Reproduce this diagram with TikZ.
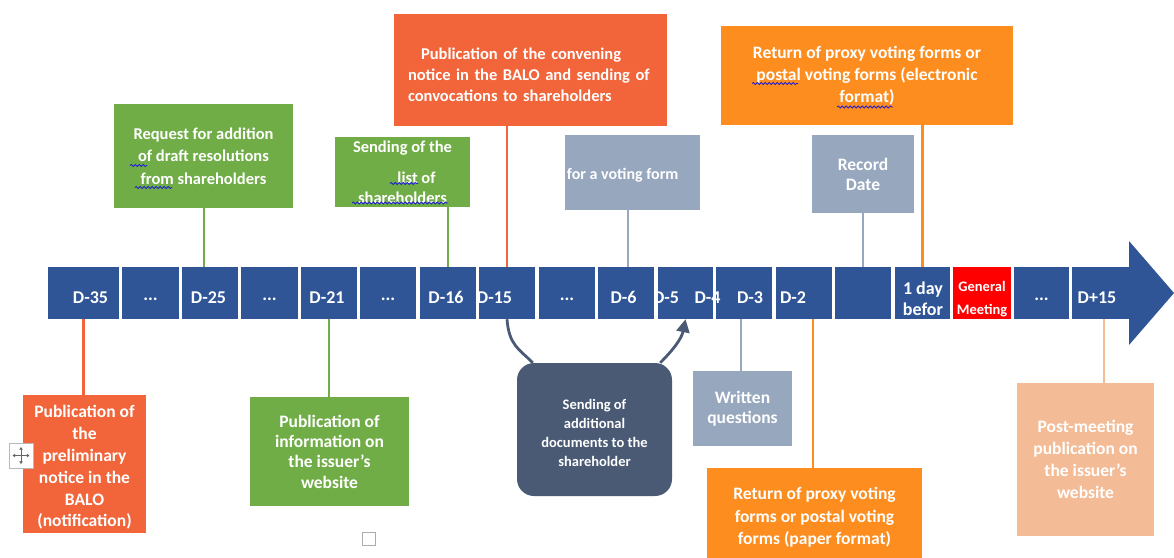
\documentclass[tikz,border=0pt]{standalone}
\usepackage{fontspec}
\setmainfont{Carlito}
\usetikzlibrary{arrows.meta,decorations.pathmorphing}

\definecolor{barblue}{HTML}{2F5597}
\definecolor{gmred}{HTML}{FF0000}
\definecolor{leafgreen}{HTML}{70AD47}
\definecolor{brick}{HTML}{F2643A}
\definecolor{amber}{HTML}{FD8D1F}
\definecolor{steel}{HTML}{97A7BE}
\definecolor{peach}{HTML}{F4BC96}
\definecolor{slate}{HTML}{4A5A74}
\definecolor{squiggle}{HTML}{2020D0}

\newcommand{\fs}[2]{\fontsize{#1}{#2}\selectfont}

\tikzset{
  seg/.style={fill=barblue, minimum height=52pt, inner sep=0pt},
  segtxt/.style={text=white, inner sep=0pt, font=\bfseries\fs{18}{21}, align=center},
  panel/.style={inner sep=0pt, text=white, align=center, font=\bfseries\fs{17.5}{21.5}},
  tick/.style={line width=2pt},
  wavy/.style={squiggle, line width=0.8pt, decorate,
               decoration={snake, amplitude=1.1pt, segment length=4pt}}
}

\begin{document}
\begin{tikzpicture}[x=1pt,y=-1pt]
\useasboundingbox (0,0) rectangle (1174,557);

% ---------- time line ----------
\node[seg, minimum width=71pt] (t1)  at (83.5,293) {};
\node[seg, minimum width=57pt] (t2)  at (150.5,293) {};
\node[seg, minimum width=56pt] (t3)  at (210,293) {};
\node[seg, minimum width=57pt] (t4)  at (269.5,293) {};
\node[seg, minimum width=56pt] (t5)  at (329,293) {};
\node[seg, minimum width=56pt] (t6)  at (388,293) {};
\node[seg, minimum width=56pt] (t7)  at (448,293) {};
\node[seg, minimum width=56pt] (t8)  at (507,293) {};
\node[seg, minimum width=56pt] (t9)  at (567,293) {};
\node[seg, minimum width=56pt] (t10) at (626,293) {};
\node[seg, minimum width=55pt] (t11) at (685.5,293) {};
\node[seg, minimum width=56pt] (t12) at (744,293) {};
\node[seg, minimum width=56pt] (t13) at (804,293) {};
\node[seg, minimum width=56pt] (t14) at (863,293) {};
\node[seg, minimum width=55pt] (t15) at (922.5,293) {};
\node[seg, fill=gmred, minimum width=58pt] (t16) at (982,293) {};
\node[seg, minimum width=55pt] (t17) at (1041.5,293) {};
\node[seg, minimum width=64pt] (t18) at (1104,293) {};
\fill[barblue] (1129,241) -- (1174,293) -- (1129,345) -- cycle;

\node[segtxt] (l1)  at (90.5,297.5) {D-35};
\node[segtxt] (l2)  at (150.5,299) {...};
\node[segtxt] (l3)  at (208.5,297.5) {D-25};
\node[segtxt] (l4)  at (269.5,299) {...};
\node[segtxt] (l5)  at (327,297.5) {D-21};
\node[segtxt] (l6)  at (388,299) {...};
\node[segtxt] (l7)  at (446,297.5) {D-16};
\node[segtxt] (l8)  at (494.5,297.5) {D-15};
\node[segtxt] (l9)  at (567,299) {...};
\node[segtxt] (l10) at (623.5,297.5) {D-6};
\node[segtxt] (l11a) at (666,297.5) {D-5};
\node[segtxt] (l11b) at (707.5,297.5) {D-4};
\node[segtxt] (l12) at (750,297.5) {D-3};
\node[segtxt] (l13) at (793,297.5) {D-2};
\node[segtxt] (l15) at (923,298.5) {1 day\\befor};
\node[segtxt, font=\bfseries\fs{14.5}{23}] (l16) at (982,299.5) {General\\Meeting};
\node[segtxt] (l17) at (1041.5,299) {...};
\node[segtxt] (l18) at (1097,297.5) {D+15};

% ---------- panels above the line ----------
\node[panel, fill=leafgreen, minimum width=179pt, minimum height=104pt,
      font=\bfseries\fs{16.5}{22.5}] (req) at (203.5,156)
  {Request for addition\\of draft resolutions\\from shareholders};
\node[panel, fill=leafgreen, minimum width=135pt, minimum height=70pt,
      font=\bfseries\fs{16.5}{20}] (list) at (402.5,172)
  {Sending of the\\[11pt]\hspace*{28pt}list of\\shareholders};
\node[panel, fill=brick, minimum width=273pt, minimum height=112pt] (conv) at (530.5,70) {};
\node[panel, text width=245pt, align=left, font=\bfseries\fs{16.5}{21}] (convT) at (530.5,74.5)
  {\hspace*{13pt}Publication of the convening\\notice in the BALO and sending of\\convocations to shareholders};
\node[panel, fill=steel, minimum width=135pt, minimum height=75pt] (vote) at (632.5,172.5) {};
\node[panel, fill=amber, minimum width=292pt, minimum height=99pt,
      font=\bfseries\fs{17.5}{22}] (elec) at (867,75.5)
  {Return of proxy voting forms or\\postal voting forms (electronic\\format)};
\node[panel, fill=steel, minimum width=102pt, minimum height=78pt,
      font=\bfseries\fs{17.5}{20}] (rec) at (863,174) {Record\\Date};

% ---------- panels below the line ----------
\node[panel, fill=brick, minimum width=123pt, minimum height=138pt] (pre) at (84.5,464) {};
\node[panel, font=\bfseries\fs{17.5}{21.8}] (preT) at (84.5,467.5)
  {Publication of\\the\\preliminary\\notice in the\\BALO\\(notification)};
\node[panel, fill=leafgreen, minimum width=159pt, minimum height=109pt,
      font=\bfseries\fs{17.5}{20.3}] (web) at (329.5,451.5)
  {Publication of\\information on\\the issuer's\\website};
\node[panel, fill=slate, rounded corners=17pt, minimum width=155pt, minimum height=133pt] (sd) at (594.5,429.5) {};
\node[panel, font=\bfseries\fs{14.5}{19}] (sdT) at (594.5,432.5)
  {Sending of\\additional\\documents to the\\shareholder};
\node[panel, fill=steel, minimum width=99pt, minimum height=75pt,
      font=\bfseries\fs{17.5}{20}] (wq) at (742.5,408.5) {Written\\questions};
\node[panel, fill=amber, minimum width=215pt, minimum height=99pt,
      font=\bfseries\fs{17.5}{22.5}] (paper) at (814.5,517.5)
  {Return of proxy voting\\forms or postal voting\\forms (paper format)};
\node[panel, fill=peach, minimum width=137pt, minimum height=153pt,
      font=\bfseries\fs{17.5}{22}] (post) at (1085.5,459.5)
  {Post-meeting\\publication on\\the issuer's\\website};

% ---------- drop lines ----------
\draw[tick, brick, line width=2.5pt] (t1.south) -- (t1.south |- pre.north);
\draw[tick, leafgreen] (req.south) -- (req.south |- t3.north);
\draw[tick, leafgreen] (t5.south) -- (t5.south |- web.north);
\draw[tick, leafgreen] (t7.north) -- (t7.north |- list.south);
\draw[tick, brick, line width=2.5pt] (t8.north) -- (t8.north |- conv.south);
\draw[tick, steel] ([xshift=2pt]t10.north) -- ([xshift=2pt]t10.north |- vote.south);
\draw[tick, steel] ([xshift=-2pt]wq.north) -- ([xshift=-2pt]wq.north |- t12.south);
\draw[tick, amber, line width=2.5pt] ([xshift=-1.5pt]paper.north) -- ([xshift=-1.5pt]paper.north |- t13.south);
\draw[tick, steel] (rec.south) -- (rec.south |- t14.north);
\draw[tick, amber, line width=2.5pt] (t15.north) -- (t15.north |- elec.south);
\draw[tick, peach] (t18.south) -- (t18.south |- post.north);

% white caption of the voting-form panel, set over the drop line
\node[panel, font=\bfseries\fs{16}{20}] (voteT) at (594,175) {Request for a voting form};

% ---------- curved arrows around the slate panel ----------
\draw[slate, line width=2.8pt] (t8.south) .. controls +(2,26) and +(-14,-14) .. ([xshift=16pt]sd.north west);
\draw[slate, line width=2.8pt, -{Triangle[length=13pt,width=13pt]}]
  ([xshift=-12pt]sd.north east) .. controls +(12,-12) and +(-4,20) .. (t11.south);

% ---------- spell-check squiggles ----------
\draw[wavy] (130,165.5) -- (147,165.5);
\draw[wavy] (135,187.5) -- (172,187.5);
\draw[wavy] (390,183.5) -- (418,183.5);
\draw[wavy] (352,203) -- (448,203);
\draw[wavy] (752,83.5) -- (798,83.5);
\draw[wavy] (837,107) -- (893,107);

% ---------- editor handles ----------
\node[draw=gray!55, fill=white, line width=0.8pt, minimum width=24pt, minimum height=25pt, inner sep=0pt] (handle) at (21,455.5) {};
\draw[gray!80!black, line width=0.8pt, -{Triangle[length=2.6pt,width=3.4pt]}] (handle.center) -- ++(8.5,0);
\draw[gray!80!black, line width=0.8pt, -{Triangle[length=2.6pt,width=3.4pt]}] (handle.center) -- ++(-8.5,0);
\draw[gray!80!black, line width=0.8pt, -{Triangle[length=2.6pt,width=3.4pt]}] (handle.center) -- ++(0,8.5);
\draw[gray!80!black, line width=0.8pt, -{Triangle[length=2.6pt,width=3.4pt]}] (handle.center) -- ++(0,-8.5);
\node[draw=gray!65, line width=0.9pt, minimum size=13pt, inner sep=0pt] (anchorbox) at (369,539) {};

\end{tikzpicture}
\end{document}
